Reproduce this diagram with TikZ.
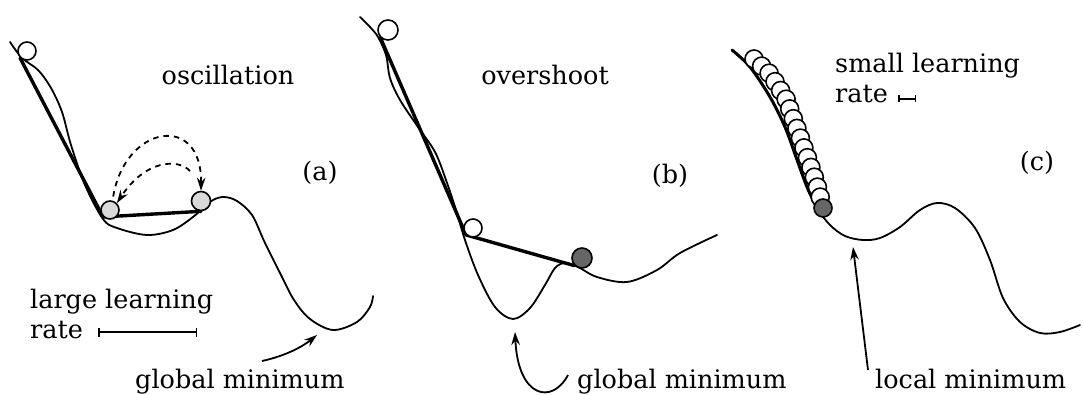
\documentclass[tikz,border=0pt]{standalone}
\usepackage{fontspec}
\setmainfont{DejaVu Serif}
\usetikzlibrary{arrows.meta}
\pgfdeclarelayer{bg}
\pgfsetlayers{bg,main}
\begin{document}
\begin{tikzpicture}[x=1pt,y=-1pt,
  curve/.style={line width=1.8pt, line join=round, line cap=round},
  thickline/.style={line width=3.4pt, line cap=round, line join=round},
  ball/.style={circle, draw, line width=1.6pt, fill=white, inner sep=0pt, minimum size=18pt},
  bigball/.style={ball, minimum size=20pt},
  lball/.style={ball, fill=black!15},
  dball/.style={bigball, fill=black!60},
  lbl/.style={font=\fontsize{25.5}{28}\selectfont, inner sep=0pt},
  arrtip/.style={-{Stealth[length=13pt,width=8.5pt]}, line width=1.8pt},
  dasharr/.style={arrtip, dash pattern=on 5.5pt off 5pt},
  scalebar/.style={line width=1.5pt, {Bar[width=9pt]}-{Bar[width=9pt]}},
  ]
\useasboundingbox (0,0) rectangle (1083,395);

% ---------- panel (a) ----------
\node[ball] (ta) at (27,51) {};
\node[lball] (ba1) at (110,210) {};
\node[lball, minimum size=19pt] (ba2) at (201,201) {};
\coordinate (inS) at (190,171);
\begin{pgfonlayer}{bg}
\draw[curve] plot[smooth, tension=0.55] coordinates {(10,42) (22,58) (38,70) (51,88) (62,112) (71,145) (85,185) (103,219) (117,228) (147,235) (173,230) (193,217) (203,208) (213,200) (224,197) (237,201) (252,215) (265,243) (280,273) (294,300) (310,319) (333,330) (357,322) (370,307) (373,296)};
\draw[thickline] (ta.south west) -- (ba1.south west) -- (ba2.south);
\end{pgfonlayer}
\draw[dasharr, shorten <=4pt] (ba1.75) .. controls (125,125) and (202,112) .. (ba2.north);
\draw[dasharr] (inS) .. controls (178,158) and (145,160) .. (ba1.45);

\node[lbl, anchor=base] (osc) at (228,85) {oscillation};
\node[lbl] (la) at (320,173) {(a)};
\node[lbl, anchor=base west] (large) at (30,308) {large learning};
\node[lbl, anchor=base west] (ratea) at (30,338) {rate};
\coordinate (sa1) at (98,332);
\coordinate (sa2) at (197,332);
\draw[scalebar] (sa1) -- (sa2);
\node[lbl, anchor=base west] (gma) at (135,388) {global minimum};
\coordinate (gmaS) at (262,361);
\coordinate (gmaE) at (317,335);
\draw[arrtip] (gmaS) .. controls (285,356) and (302,347) .. (gmaE);

% ---------- panel (b) ----------
\node[bigball] (tb) at (388,30) {};
\node[ball] (bb2) at (473,228) {};
\node[dball] (db) at (582,258) {};
\begin{pgfonlayer}{bg}
\draw[curve] plot[smooth, tension=0.55] coordinates {(360,17) (370,27) (378,37) (386,55) (390,78) (400,100) (418,127) (435,152) (446,180) (456,210) (465,240) (478,275) (495,307) (513,319) (530,308) (545,285) (555,268) (565,263) (578,267) (597,277) (627,282) (657,270) (680,253) (717,235)};
\draw[thickline] (tb.south west) -- (bb2.south west) -- (db.south west);
\end{pgfonlayer}
\node[lbl, anchor=base] (ovs) at (545,85) {overshoot};
\node[lbl] (lb) at (670,176) {(b)};
\node[lbl, anchor=base west] (gmb) at (577,388) {global minimum};
\coordinate (gmbS) at (568,375);
\coordinate (gmbE) at (515,332);
\draw[arrtip] (gmbS) .. controls (552,405) and (518,398) .. (gmbE);

% ---------- panel (c) ----------
\begin{pgfonlayer}{bg}
\draw[curve] plot[smooth, tension=0.55] coordinates {(732,50) (750,67) (770,97) (785,127) (796,157) (807,187) (817,208) (830,225) (845,236) (863,240) (880,238) (900,227) (920,210) (937,203) (955,208) (975,228) (990,260) (1003,298) (1020,322) (1040,333) (1060,332) (1080,325)};
\draw[thickline, line width=3pt] plot[smooth, tension=0.55] coordinates {(732,50) (750,67) (770,97) (785,127) (796,157) (807,187) (817,208)};
\end{pgfonlayer}
\foreach \p [count=\i] in {(754,59),(761.6,66.1),(769.1,73.2),(775,81.7),(780.6,90.5),(786.1,99.2),(789.7,108.9),(793.3,118.7),(796.9,128.4),(800.4,138.1),(803.9,147.9),(807.4,157.7),(810.9,167.4),(814.3,177.2),(817.4,187.1),(820.2,197.1)}
  \node[ball] (c\i) at \p {};
\node[dball, minimum size=18pt] (cd) at (823,208) {};

\node[lbl, anchor=base west] (small) at (835,73) {small learning};
\node[lbl, anchor=base west] (ratec) at (835,103) {rate};
\coordinate (sc1) at (898,99);
\coordinate (sc2) at (916,99);
\draw[line width=1.5pt, {Bar[width=7pt]}-{Bar[width=7pt]}] (sc1) -- (sc2);
\node[lbl] (lc) at (1037,163) {(c)};
\node[lbl, anchor=base west] (lm) at (875,388) {local minimum};
\coordinate (lmS) at (868,370);
\coordinate (lmE) at (853,247);
\draw[arrtip] (lmS) -- (lmE);
\end{tikzpicture}
\end{document}
